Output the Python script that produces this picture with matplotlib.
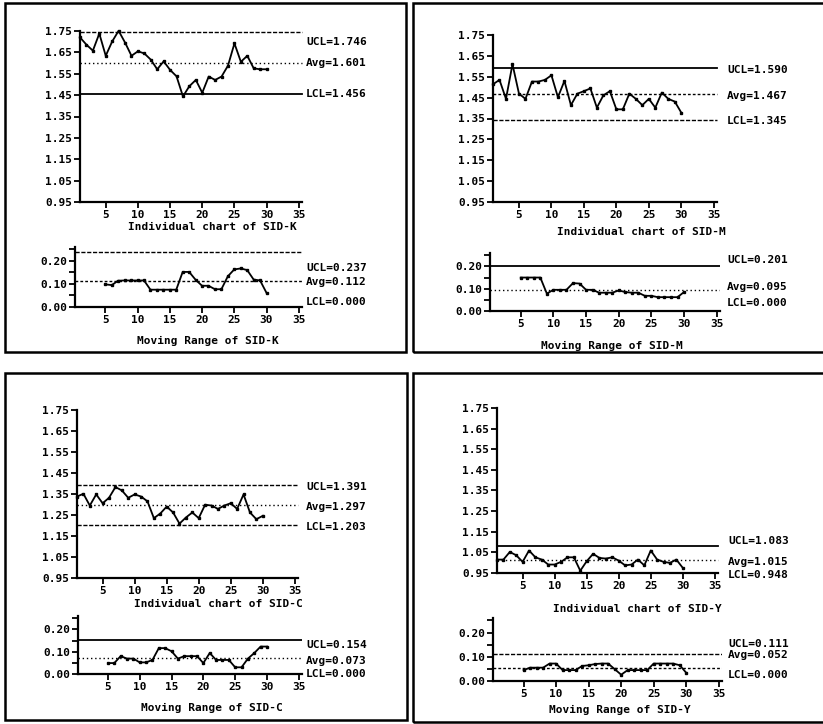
import matplotlib
matplotlib.use("Agg")
import matplotlib.pyplot as plt
from matplotlib.patches import Rectangle
from matplotlib.ticker import MultipleLocator

# data
obs = list(range(1, 31))
mr_obs = list(range(5, 31))

sid_k_ind = [1.720, 1.686, 1.658, 1.738, 1.634, 1.701, 1.751, 1.696, 1.634, 1.655,
             1.645, 1.616, 1.571, 1.608, 1.568, 1.538, 1.444, 1.492, 1.521, 1.461,
             1.537, 1.521, 1.537, 1.588, 1.692, 1.606, 1.634, 1.575, 1.571, 1.571]
sid_k_mr = [0.098, 0.095, 0.114, 0.115, 0.115, 0.115, 0.115, 0.075, 0.075, 0.075,
            0.075, 0.075, 0.152, 0.152, 0.118, 0.092, 0.092, 0.077, 0.077, 0.133,
            0.163, 0.167, 0.160, 0.119, 0.115, 0.061]

sid_m_ind = [1.514, 1.535, 1.444, 1.610, 1.469, 1.444, 1.527, 1.527, 1.535, 1.557,
             1.452, 1.530, 1.414, 1.469, 1.481, 1.494, 1.402, 1.461, 1.481, 1.394,
             1.394, 1.469, 1.444, 1.414, 1.444, 1.402, 1.474, 1.444, 1.431, 1.378]
sid_m_mr = [0.150, 0.150, 0.150, 0.150, 0.078, 0.095, 0.095, 0.095, 0.125, 0.123,
            0.095, 0.095, 0.082, 0.082, 0.082, 0.092, 0.085, 0.082, 0.082, 0.068,
            0.068, 0.062, 0.062, 0.062, 0.062, 0.085]

sid_c_ind = [1.338, 1.351, 1.295, 1.348, 1.306, 1.332, 1.383, 1.367, 1.332, 1.348,
             1.338, 1.315, 1.235, 1.257, 1.290, 1.262, 1.209, 1.238, 1.262, 1.235,
             1.299, 1.295, 1.279, 1.295, 1.306, 1.279, 1.348, 1.262, 1.230, 1.246]
sid_c_mr = [0.049, 0.049, 0.080, 0.069, 0.069, 0.052, 0.052, 0.063, 0.116, 0.116,
            0.102, 0.069, 0.080, 0.080, 0.080, 0.049, 0.094, 0.063, 0.063, 0.063,
            0.030, 0.030, 0.069, 0.094, 0.123, 0.123]

sid_y_ind = [1.015, 1.015, 1.052, 1.036, 1.004, 1.059, 1.026, 1.015, 0.991, 0.991,
             1.004, 1.026, 1.026, 0.961, 1.007, 1.043, 1.023, 1.020, 1.026, 1.010,
             0.987, 0.991, 1.015, 0.987, 1.059, 1.015, 1.004, 0.999, 1.015, 0.975]
sid_y_mr = [0.045, 0.055, 0.055, 0.055, 0.072, 0.072, 0.045, 0.045, 0.045, 0.062,
            0.065, 0.070, 0.072, 0.072, 0.049, 0.026, 0.045, 0.045, 0.045, 0.045,
            0.072, 0.072, 0.072, 0.072, 0.065, 0.034]

# UCL, Avg, LCL
k_lim = [1.746, 1.601, 1.456]
k_mr_lim = [0.237, 0.112, 0.000]
m_lim = [1.590, 1.467, 1.345]
m_mr_lim = [0.201, 0.095, 0.000]
c_lim = [1.391, 1.297, 1.203]
c_mr_lim = [0.154, 0.073, 0.000]
y_lim = [1.083, 1.015, 0.948]
y_mr_lim = [0.111, 0.052, 0.000]

names = ["SID-K", "SID-M", "SID-C", "SID-Y"]

W, H = 823, 724
fig = plt.figure(figsize=(W / 100, H / 100), dpi=100)
plt.rcParams['font.family'] = ['DejaVu Sans Mono']
FS = 8
FW = 'bold'

DASH = (0, (3, 1.2))
DOT = (0, (1, 2))
FINE = (0, (2, 1.5))


def rect(l, t, r, b):
    return [l / W, 1 - b / H, (r - l) / W, (b - t) / H]


def style(ax):
    for s in ['top', 'right']:
        ax.spines[s].set_visible(False)
    for s in ['left', 'bottom']:
        ax.spines[s].set_linewidth(1.6)
    ax.tick_params(which='both', direction='out', length=4, width=1.3,
                   labelsize=FS, pad=1.5)
    for lab in ax.get_xticklabels() + ax.get_yticklabels():
        lab.set_fontweight(FW)


panels = [
    dict(name=names[0], ind=sid_k_ind, mr=sid_k_mr, lim=k_lim, mrlim=k_mr_lim,
         box=(5, 3, 406, 352), ax_ind=(80, 31, 302, 202), ax_mr=(75, 247, 302, 307),
         t_ind=(212, 227), t_mr=(208, 341), labx=306,
         ls_ind=[DASH, DOT, '-'], ls_mr=[DASH, FINE, '-'],
         off_ind=[-10, 0, 0], off_mr=[-16, -1, 5]),
    dict(name=names[1], ind=sid_m_ind, mr=sid_m_mr, lim=m_lim, mrlim=m_mr_lim,
         box=(413, 3, 830, 352), ax_ind=(493, 35, 717, 202), ax_mr=(490, 253, 720, 311),
         t_ind=(641, 232), t_mr=(612, 346), labx=727,
         ls_ind=['-', FINE, DASH], ls_mr=['-', DOT, '-'],
         off_ind=[-2, -2, -1], off_mr=[6, 3, 8]),
    dict(name=names[2], ind=sid_c_ind, mr=sid_c_mr, lim=c_lim, mrlim=c_mr_lim,
         box=(5, 373, 407, 720), ax_ind=(77, 410, 298, 578), ax_mr=(78, 616, 302, 674),
         t_ind=(218, 604), t_mr=(212, 708), labx=306,
         ls_ind=[DASH, DOT, DASH], ls_mr=['-', DOT, '-'],
         off_ind=[-2, -2, -2], off_mr=[-5, -3, 0]),
    dict(name=names[3], ind=sid_y_ind, mr=sid_y_mr, lim=y_lim, mrlim=y_mr_lim,
         box=(413, 373, 830, 722), ax_ind=(497, 408, 718, 573), ax_mr=(493, 618, 722, 681),
         t_ind=(637, 609), t_mr=(620, 710), labx=728,
         ls_ind=['-', DOT, '-'], ls_mr=[DASH, FINE, '-'],
         off_ind=[5, -2, -2], off_mr=[10, 13, 6]),
]

tags = ["UCL", "Avg", "LCL"]

for p in panels:
    l, t, r, b = p['box']
    fig.patches.append(Rectangle((l / W, 1 - b / H), (r - l) / W, (b - t) / H,
                                 transform=fig.transFigure, fill=False,
                                 lw=1.8, ec='black'))

    # individual chart
    ax = fig.add_axes(rect(*p['ax_ind']))
    ax.plot(obs, p['ind'], color='black', lw=1.3, marker='s', ms=1.9, clip_on=False)
    for v, ls in zip(p['lim'], p['ls_ind']):
        ax.axhline(v, color='black', lw=1.0 if ls != '-' else 1.3, ls=ls, clip_on=False)
    ax.set_xlim(1, 35.5)
    ax.set_ylim(0.95, 1.75)
    ax.set_xticks([5, 10, 15, 20, 25, 30, 35])
    ax.set_yticks([0.95, 1.05, 1.15, 1.25, 1.35, 1.45, 1.55, 1.65, 1.75])
    ax.set_yticklabels(["%.2f" % v for v in ax.get_yticks()])
    style(ax)
    for tag, v, off in zip(tags, p['lim'], p['off_ind']):
        yp = ax.transData.transform((1, v))[1] + off
        fig.text(p['labx'] / W, yp / H, "%s=%.3f" % (tag, v), fontsize=FS,
                 fontweight=FW, va='center', ha='left')
    fig.text(p['t_ind'][0] / W, 1 - p['t_ind'][1] / H, "Individual chart of " + p['name'],
             fontsize=FS, fontweight=FW, ha='center', va='center')

    # moving range chart
    ax2 = fig.add_axes(rect(*p['ax_mr']))
    ax2.plot(mr_obs, p['mr'], color='black', lw=1.3, marker='s', ms=1.9)
    for v, ls in zip(p['mrlim'][:2], p['ls_mr'][:2]):
        ax2.axhline(v, color='black', lw=1.0 if ls != '-' else 1.3, ls=ls)
    ax2.set_xlim(0.3, 35.5)
    ax2.set_ylim(0, 0.26)
    ax2.set_xticks([5, 10, 15, 20, 25, 30, 35])
    ax2.set_yticks([0.0, 0.1, 0.2])
    ax2.set_yticklabels(["0.00", "0.10", "0.20"])
    ax2.yaxis.set_minor_locator(MultipleLocator(0.05))
    style(ax2)
    for tag, v, off in zip(tags, p['mrlim'], p['off_mr']):
        yp = ax2.transData.transform((1, v))[1] + off
        fig.text(p['labx'] / W, yp / H, "%s=%.3f" % (tag, v), fontsize=FS,
                 fontweight=FW, va='center', ha='left')
    fig.text(p['t_mr'][0] / W, 1 - p['t_mr'][1] / H, "Moving Range of " + p['name'],
             fontsize=FS, fontweight=FW, ha='center', va='center')

fig.savefig("out.png", dpi=100)
